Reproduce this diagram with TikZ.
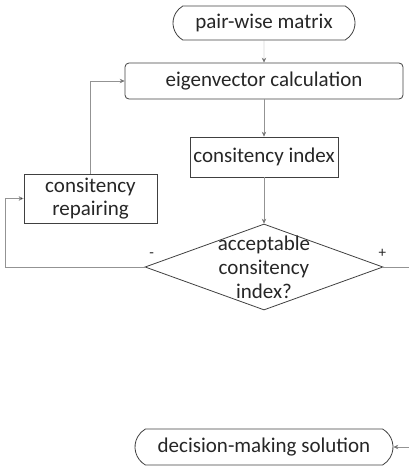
\documentclass[tikz,border=0pt]{standalone}
\usepackage{fontspec}
\setmainfont{Carlito}
\usepackage{tikz}
\usetikzlibrary{shapes,shapes.geometric,shapes.misc,arrows.meta}

\begin{document}
\begin{tikzpicture}[x=1pt,y=1pt]
    \tikzstyle{dedge} = [->,>={Stealth[length=5pt,width=4.5pt,fill=black!80]},draw=gray!85]
    \tikzstyle{shared}=[
      draw=black!75,
      thick,
      text=black!85,
      font=\fontsize{21}{23}\selectfont,
      inner sep=0pt,
    ]
    \tikzstyle{terminal}=[
      shared,
      rounded rectangle,
      rounded rectangle arc length=120,
      minimum height=34pt,
    ]
    \tikzstyle{process}=[
      shared,
      rectangle,
    ]
    \tikzstyle{decision}=[
      shared,
      diamond,
      minimum width=238pt,
      minimum height=86pt,
    ]
    \tikzstyle{question}=[
      align=center,
      text=black!85,
      font=\fontsize{21}{24}\selectfont,
    ]
    \tikzstyle{sign}=[
      font=\fontsize{15}{17}\selectfont,
      text=black!85,
    ]

    \useasboundingbox (0,0) rectangle (409,-466);

    \node[terminal,minimum width=182pt] (matrix) at (264,-23) {pair-wise matrix};
    \node[process,rounded corners=4pt,minimum width=278pt,minimum height=36pt] (eigen) at (264,-81) {eigenvector calculation};
    \node[process,minimum width=148pt,minimum height=40pt] (index) at (264,-157) {consitency index};
    \node[process,minimum width=133pt,minimum height=49pt,align=center] (repair) at (90.5,-198.5) {consitency\\repairing};
    \node[decision] (check) at (264,-267) {};
    \node[question] (check text) at (check) {acceptable\\consitency\\index?};
    \node[terminal,minimum width=258pt,minimum height=36pt] (solution) at (264,-447) {decision-making solution};

    \coordinate (left turn) at (5,-267);
    \coordinate (right turn) at (430,-267);

    \node[sign] (minus label) at ([xshift=7pt,yshift=12pt]check.west) {-};
    \node[sign] (plus label) at ([xshift=-1pt,yshift=14pt]check.east) {+};

    \draw[dedge] (matrix)--(eigen);
    \draw[dedge] (eigen)--(index);
    \draw[dedge] (index)--(check);
    \draw[dedge] (repair.north) |- (eigen.west);
    \draw[dedge] (check.west)--(left turn) |- (repair.west);
    \draw[dedge] (check.east)--(right turn) |- (solution.east);
\end{tikzpicture}
\end{document}
